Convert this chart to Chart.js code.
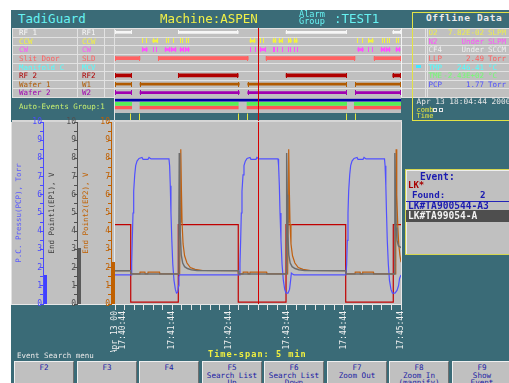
<!DOCTYPE html>
<html>
<head>
<meta charset="utf-8">
<title>TadiGuard - ASPEN</title>
<script src="https://cdn.jsdelivr.net/npm/chart.js@4.4.1/dist/chart.umd.min.js"></script>
<style>
html,body{margin:0;padding:0;background:#ffffff}
body{width:509px;height:383px;position:relative;overflow:hidden;font-family:'DejaVu Sans Mono',monospace}
.a{position:absolute;white-space:pre}
canvas{position:absolute}
</style>
</head>
<body>
<script>
// ---------------- data ----------------
const MONO = "'DejaVu Sans Mono', monospace";

// time axis: seconds after 17:40:44, 5 minute span
const timeMajor = [0, 60, 120, 180, 240, 300];
const timeLabels = [['Apr 13 00', '17:40:44'], '17:41:44', '17:42:44', '17:43:44', '17:44:44', '17:45:44'];
const timeMinorStep = 10;
const cursorTime = 150.5;

// value axes (all 0..10)
const axisLabels = [0, 1, 2, 3, 4, 5, 6, 7, 8, 9, 10];

// P.C. Pressure (PCP), Torr  [t, value]
const pcp = [
  [0,1.6],[16.8,1.6],[17.5,2.2],[18.1,3.5],[18.9,5.0],[19.6,6.2],[20.7,7.1],[21.7,7.6],[23.1,7.85],[25.2,8.0],
  [28.3,8.05],[29.4,7.95],[34.6,7.95],[35.7,8.05],[37.8,7.97],[56.6,7.97],[57.3,7.6],[58.0,6.5],[58.7,5.0],
  [59.6,3.5],[60.6,2.2],[61.9,1.3],[63.3,0.8],[64.5,0.6],[65.8,0.65],[66.6,1.0],[67.1,1.5],[67.8,1.6],
  [130.4,1.6],[131.1,2.2],[131.8,3.5],[132.5,5.0],[133.2,6.2],[134.3,7.1],[135.3,7.6],[136.7,7.85],[138.5,8.0],
  [141.6,8.05],[142.6,7.95],[147.9,7.95],[148.9,8.05],[151.0,7.97],[171.0,7.97],[171.6,7.6],[172.4,6.5],
  [173.1,5.0],[174.1,3.5],[175.2,2.2],[176.6,1.3],[178.0,0.8],[179.4,0.6],[181.5,0.6],[183.1,0.8],[184.2,1.3],
  [185.0,1.7],[186.2,1.65],[187.8,1.6],
  [242.3,1.6],[243.0,2.2],[243.7,3.5],[244.4,5.0],[245.1,6.2],[246.2,7.1],[247.2,7.6],[248.6,7.85],[250.7,8.0],
  [253.9,8.05],[254.9,7.95],[260.2,7.95],[261.2,8.05],[263.3,7.97],[282.7,7.97],[283.3,7.6],[284.1,6.5],
  [284.8,5.0],[285.6,3.5],[286.7,2.2],[287.9,1.3],[289.5,0.8],[291.0,0.6],[293.7,0.6],[295.8,0.75],[297.4,1.0],
  [298.5,1.4],[300,1.6]
];

// RF level (step trace): value holds from each time until the next
const rfLevel = [[0,4.36],[16.5,0.1],[66.4,4.36],[129.3,0.1],[179.4,4.36],[242.0,0.1],[291.9,4.36],[300,4.36]];

// End Point 1 (EP1), V
const ep1 = [
  [0,1.83],[16.5,1.83],[17.0,1.65],[66.6,1.65],[67.0,4.5],[67.4,8.3],[67.9,6.0],[68.5,3.8],[69.5,2.7],[71,2.25],
  [73,2.05],[76,1.95],[80,1.88],[86,1.84],[129.3,1.83],[129.8,1.65],[179.6,1.65],[179.9,4.5],[180.2,8.3],
  [180.7,6.0],[181.3,3.8],[182.3,2.7],[183.8,2.25],[185.8,2.05],[188.8,1.95],[192.8,1.88],[198.8,1.84],
  [242.0,1.83],[242.5,1.65],[293.0,1.65],[293.4,4.5],[293.7,8.3],[294.2,6.0],[294.9,4.2],[295.8,3.5],
  [297.3,3.2],[300,3.1]
];

// End Point 2 (EP2), V
const ep2 = [
  [0,1.83],[16.5,1.83],[17.0,1.65],[26.0,1.65],[26.3,1.75],[31.4,1.75],[31.7,1.65],[34.4,1.65],[34.7,1.75],
  [46.6,1.75],[46.9,1.65],[67.8,1.65],[68.3,4.5],[68.8,8.5],[69.2,8.5],[69.7,6.2],[70.4,4.4],[71.4,3.3],
  [73.0,2.65],[75.5,2.25],[79,2.0],[84,1.9],[92,1.84],[129.3,1.83],[129.8,1.65],[134.2,1.65],[134.5,1.75],
  [139.4,1.75],[139.7,1.65],[141.4,1.65],[141.7,1.75],[159.0,1.75],[159.3,1.65],[181.1,1.65],[181.5,4.5],
  [182.0,8.5],[182.4,8.5],[182.9,6.2],[183.6,4.4],[184.6,3.3],[186.2,2.65],[188.7,2.25],[192.2,2.0],
  [197.2,1.9],[205.2,1.84],[242.0,1.83],[242.5,1.65],[251.7,1.65],[252.0,1.75],[257.0,1.75],[257.3,1.65],
  [259.5,1.65],[259.8,1.75],[271.0,1.75],[271.3,1.65],[294.2,1.65],[294.5,4.5],[294.9,8.5],[295.3,8.5],
  [295.8,6.0],[296.6,4.3],[297.6,3.3],[298.8,2.7],[300,2.3]
];

// current readings shown as bars beside each axis
const levelPCP = 1.6, levelEP1 = 3.1, levelEP2 = 2.3;

// digital event rows
const rowNames  = ['RF 1', 'CCW', 'CW', 'Slit Door', 'Manifold C', 'RF 2', 'Wafer 1', 'Wafer 2'];
const rowCodes  = ['RF1', 'CCW', 'CW', 'SLD', 'MCV', 'RF2', 'W1', 'W2'];
const rowColors = ['#f6f6f6', '#f2f240', '#ff50ff', '#ff6262', '#50ffff', '#b00000', '#b05a00', '#a000b0'];

const rf1On      = [[0,17.5],[66.4,129.3],[179.4,243.0],[291.3,300]];
const ccwPulses  = [[39.5,44.8],[141.6,146.9],[165.7,168.8],[172.0,175.7],[181.8,185.1],[187.8,191.2],[265.7,270.9]];
const ccwMarks   = [[28.6,33.9],[53.2,56.6],[60.5,61.9],[68.2,71.3],[74.5,77.9],[152.1,156.3],[254.2,259.8],[279.8,283.2],[285.2,288.5],[294.6,298.0]];
const cwPulses   = [[28.6,33.9],[52.4,57.7],[58.7,64.0],[68.2,72.3],[73.9,77.9],[152.1,158.1],[254.6,260.5],[279.0,283.2],[284.3,288.5],[294.6,299.0]];
const cwMarks    = [[39.5,44.3],[141.6,147.6],[165.4,167.8],[169.9,175.9],[181.3,184.7],[187.8,191.8],[265.7,270.9]];
const slitOpen   = [[0,26.2],[45.4,139.8],[158.4,251.8],[271.7,300]];
const manifoldOn = [];
const rf2On      = [[0,17.5],[66.4,129.3],[179.4,243.0],[291.3,300]];
const wafer1In   = [[0,17.5],[26.2,130.4],[139.2,243.0],[252.1,300]];
const wafer2In   = [[0,17.5],[26.2,130.4],[139.2,243.0],[252.1,300]];

// auto-events group 1
const autoRows   = ['G1', 'A', 'B'];
const autoGroup  = [[0,300]];
const autoPass   = [[0,17.5],[26.2,129.3],[138.5,243.0],[251.0,300]];
const autoFail   = [[0,17.5],[26.2,129.3],[138.5,243.0],[251.0,300]];
const autoMarks  = [16.5, 25.5, 129.3, 138.5, 242.6, 251.8];

// offline data table
const offNames  = ['O2', 'N2', 'CF4', 'LLP', 'TMP', 'TME', 'PCP'];
const offValues = ['7.82E-02', 'Under', 'Under', '2.49', '246.41', '-2.43E+02', '1.77'];
const offUnits  = ['SLPM', 'SLPM', 'SCCM', 'Torr', '°C', '°C', 'Torr'];
const offColors = ['#ecec50', '#ff50ff', '#eeeeee', '#ff6060', '#50ffff', '#70ff70', '#5050ff'];

// function keys
const fkeys = [['F2'], ['F3'], ['F4'], ['F5', 'Search List', 'Up'], ['F6', 'Search List', 'Down'],
               ['F7', 'Zoom Out'], ['F8', 'Zoom In', '(magnify)'], ['F9', 'Show', 'Event']];

// ---------------- page furniture ----------------
const TEAL = '#3a6b77', GRAY = '#c0c0c0', LINE = '#e2e2e2';
const root = document.body;

function box(x, y, w, h, bg, css) {
  const d = document.createElement('div');
  d.className = 'a';
  Object.assign(d.style, {left: x + 'px', top: y + 'px', width: w + 'px', height: h + 'px', background: bg}, css || {});
  root.appendChild(d);
  return d;
}
function txt(s, x, yc, size, color, css) {
  const d = document.createElement('div');
  d.className = 'a';
  d.textContent = s;
  const lh = Math.round(size * 1.25);
  Object.assign(d.style, {left: x + 'px', top: (yc - lh / 2) + 'px', fontSize: size + 'px', lineHeight: lh + 'px', color}, css || {});
  root.appendChild(d);
  return d;
}
function txtR(s, xr, yc, size, color, css) {
  const d = txt(s, 0, yc, size, color, css);
  d.style.left = '';
  d.style.right = (509 - xr) + 'px';
  return d;
}
function canvasAt(x, y, w, h) {
  const c = document.createElement('canvas');
  c.width = w; c.height = h;
  Object.assign(c.style, {left: x + 'px', top: y + 'px', width: w + 'px', height: h + 'px'});
  root.appendChild(c);
  return c;
}

// screen
box(11, 10, 498, 373, TEAL);

// event rows band
const ROW_TOP = 28, ROW_H = 69 / 8;
box(12, ROW_TOP, 497, 69, GRAY);
for (let k = 0; k <= 8; k++) box(12, Math.round(ROW_TOP + k * ROW_H), 497, 1, LINE);
[12, 77, 104, 114].forEach(x => box(x, ROW_TOP, 1, 69, LINE));
box(401, ROW_TOP, 1, 69, '#f4f4f4');

// auto-events band
box(115, 97, 286, 16, GRAY);
box(114, 97, 1, 24, LINE);
box(12, 120, 390, 1.5, '#d6d6d6');

// chart band
box(12, 121.5, 389, 182.5, GRAY);
box(11, 121.5, 1, 183, LINE);
box(114, 122, 1, 182, '#e8e8e8');
box(12, 304, 390, 1, '#e8e8e8');
box(401, 121.5, 1, 183.5, '#e8e8e8');

// offline data panel
box(412, 12, 100, 109, 'transparent', {border: '1px solid #e2e246', boxSizing: 'border-box'});
[425, 427].forEach(x => box(x, ROW_TOP, 1, 69, LINE));
box(416, 65, 5, 3, '#40e8ff');

// event search panel
box(405, 169, 106, 86, GRAY, {border: '1px solid #d6d650', boxSizing: 'border-box'});
box(406, 170, 104, 1, '#eeeeee');
box(406, 170, 1, 84, '#eeeeee');
box(406, 200.5, 104, 1.2, '#2424b8');
box(406, 210, 104, 11.5, '#4e4e4e');

// function keys
const keyLeft = [14, 77, 139, 202, 264, 327, 389, 452];
fkeys.forEach((lines, i) => {
  const b = box(keyLeft[i], 361, 60, 24, GRAY, {
    borderTop: '1px solid #f0f0f0', borderLeft: '1px solid #f0f0f0', borderRight: '1px solid #6e6e6e',
    boxSizing: 'border-box', color: '#2020a4', fontSize: '7.6px', lineHeight: '7.5px',
    textAlign: 'center', paddingTop: '2px'
  });
  b.textContent = lines.join('\n');
});

// ---------------- charts ----------------
Chart.defaults.font.family = MONO;
Chart.defaults.animation = false;

const cursorPlugin = {
  id: 'cursor',
  afterDatasetsDraw(chart, args, opts) {
    const x = Math.floor(chart.scales.x.getPixelForValue(cursorTime));
    const top = opts.full ? 0 : chart.chartArea.top;
    const bottom = opts.full ? chart.height : chart.chartArea.bottom;
    const ctx = chart.ctx;
    ctx.save();
    ctx.fillStyle = '#d40000';
    ctx.fillRect(x, top, 1, bottom - top);
    ctx.restore();
  }
};

// end caps on every event bar
const capsPlugin = {
  id: 'caps',
  afterDatasetsDraw(chart) {
    const ctx = chart.ctx;
    ctx.save();
    chart.data.datasets.forEach((ds, i) => {
      if (!ds.capHeight) return;
      ctx.fillStyle = ds.capColor;
      chart.getDatasetMeta(i).data.forEach(bar => {
        const p = bar.getProps(['x', 'base', 'y'], true);
        const x0 = Math.round(Math.min(p.x, p.base)), x1 = Math.round(Math.max(p.x, p.base));
        const y0 = Math.round(p.y - ds.capHeight / 2);
        ctx.fillRect(x0, y0, 1, ds.capHeight);
        ctx.fillRect(Math.max(x0, x1 - 1), y0, 1, ds.capHeight);
      });
    });
    ctx.restore();
  }
};

function spanSet(row, spans, color, thick, filled, caps) {
  return {
    data: spans.map(s => ({x: s, y: row})),
    backgroundColor: filled ? color : 'rgba(0,0,0,0)',
    barThickness: thick, grouped: false, borderWidth: 0,
    capColor: color, capHeight: caps
  };
}

function eventOptions(rows, padding, extra) {
  return {
    indexAxis: 'y', responsive: false, animation: false,
    layout: {padding},
    events: [],
    plugins: Object.assign({legend: {display: false}, tooltip: {enabled: false}, cursor: {full: true}}, extra || {}),
    scales: {
      x: {type: 'linear', min: 0, max: 300, display: false},
      y: {type: 'category', labels: rows, offset: true, display: false}
    }
  };
}

// event rows
new Chart(canvasAt(115, ROW_TOP, 286, 69), {
  type: 'bar',
  data: {datasets: [
    spanSet(rowNames[0], rf1On, rowColors[0], 2, true, 4),
    spanSet(rowNames[1], ccwPulses, rowColors[1], 2, true, 5),
    spanSet(rowNames[1], ccwMarks, rowColors[1], 2, false, 5),
    spanSet(rowNames[2], cwPulses, rowColors[2], 2, true, 5),
    spanSet(rowNames[2], cwMarks, rowColors[2], 2, false, 5),
    spanSet(rowNames[3], slitOpen, rowColors[3], 3, true, 5),
    spanSet(rowNames[4], manifoldOn, rowColors[4], 3, true, 5),
    spanSet(rowNames[5], rf2On, rowColors[5], 3, true, 5),
    spanSet(rowNames[6], wafer1In, rowColors[6], 2, true, 5),
    spanSet(rowNames[7], wafer2In, rowColors[7], 2, true, 5)
  ]},
  options: eventOptions(rowNames, 0),
  plugins: [capsPlugin, cursorPlugin]
});

// auto-events group
const marksPlugin = {
  id: 'marks',
  afterDatasetsDraw(chart) {
    const ctx = chart.ctx;
    ctx.save();
    ctx.fillStyle = '#e6e640';
    autoMarks.forEach(t => {
      const x = Math.floor(chart.scales.x.getPixelForValue(t));
      ctx.fillRect(x, 16.5, 1, 6.5);
    });
    ctx.restore();
  }
};
new Chart(canvasAt(115, 97, 286, 24), {
  type: 'bar',
  data: {datasets: [
    spanSet(autoRows[0], autoGroup, '#0000a8', 2, true, 0),
    spanSet(autoRows[1], autoPass, '#56f056', 3, true, 0),
    spanSet(autoRows[2], autoFail, '#ff5656', 3, true, 0)
  ]},
  options: eventOptions(autoRows, {top: 1.3, bottom: 11.5, left: 0, right: 0}),
  plugins: [marksPlugin, cursorPlugin]
});

// trend chart
const rulerTicks = [];
for (let v = 0; v <= 10; v += 0.5) rulerTicks.push(v);
const minorTicks = [];
for (let t = 0; t <= 300; t += timeMinorStep) minorTicks.push(t);

function valueAxis(title, color, titleColor, weight, width, titlePad) {
  return {
    type: 'linear', position: 'left', weight, min: 0, max: 10,
    afterBuildTicks: s => { s.ticks = rulerTicks.map(v => ({value: v})); },
    afterFit: s => { s.width = width; s.paddingTop = 0; s.paddingBottom = 0; },
    grid: {drawOnChartArea: false, drawTicks: true, tickLength: 3, color, lineWidth: 1},
    border: {display: true, color, width: 1},
    ticks: {
      autoSkip: false, padding: -2, color, font: {family: MONO, size: 8},
      callback: v => axisLabels.includes(v) ? String(v) : ''
    },
    title: {display: true, text: title, color: titleColor, font: {family: MONO, size: 7.5}, padding: {top: titlePad, bottom: 0}}
  };
}

const levelPlugin = {
  id: 'levels',
  afterDraw(chart) {
    const ctx = chart.ctx;
    ctx.save();
    [['yPCP', levelPCP, '#4040ff'], ['yEP1', levelEP1, '#5a5a5a'], ['yEP2', levelEP2, '#c06000']].forEach(([id, v, c]) => {
      const s = chart.scales[id];
      const y0 = s.getPixelForValue(0), y1 = s.getPixelForValue(v);
      ctx.fillStyle = c;
      ctx.fillRect(Math.round(s.right) + 1, Math.round(y1), 3, Math.round(y0 - y1));
    });
    ctx.restore();
  }
};

const pts = arr => arr.map(([x, y]) => ({x, y}));

new Chart(canvasAt(12, 112, 397, 240), {
  type: 'line',
  data: {datasets: [
    {label: 'End Point1(EP1)', data: pts(ep1), yAxisID: 'yEP1', borderColor: '#6c6c6c', borderWidth: 1.4, pointRadius: 0, tension: 0},
    {label: 'P.C. Pressu(PCP)', data: pts(pcp), yAxisID: 'yPCP', borderColor: '#5050ff', borderWidth: 1.2, pointRadius: 0, tension: 0},
    {label: 'End Point2(EP2)', data: pts(ep2), yAxisID: 'yEP2', borderColor: '#c06010', borderWidth: 1.2, pointRadius: 0, tension: 0},
    {label: 'RF', data: pts(rfLevel), yAxisID: 'yPCP', borderColor: '#c00000', borderWidth: 1.2, pointRadius: 0, stepped: true}
  ]},
  options: {
    responsive: false, animation: false, events: [],
    layout: {padding: {top: 10, right: 8, bottom: 0, left: 0}},
    plugins: {legend: {display: false}, tooltip: {enabled: false}, cursor: {full: false}},
    scales: {
      x: {
        type: 'linear', min: 0, max: 300,
        afterBuildTicks: s => { s.ticks = minorTicks.map(v => ({value: v})); },
        afterFit: s => { s.height = 48; s.paddingLeft = 0; s.paddingRight = 0; },
        grid: {drawOnChartArea: false, drawTicks: true, tickLength: 6, color: '#e4e4e4'},
        border: {display: false},
        ticks: {
          autoSkip: false, minRotation: 90, maxRotation: 90, padding: 1, color: '#f2f2f2',
          font: {family: MONO, size: 8, lineHeight: 1.0},
          callback: v => { const i = timeMajor.indexOf(v); return i < 0 ? '' : timeLabels[i]; }
        }
      },
      yPCP: valueAxis('P.C. Pressu(PCP), Torr', '#4a4aff', '#5a5aff', 4, 31, 2.5),
      yEP1: valueAxis('End Point1(EP1), V', '#505050', '#404040', 3, 34, 4.8),
      yEP2: valueAxis('End Point2(EP2), V', '#c06000', '#c06000', 2, 34, 4.2),
      yGap: {
        type: 'linear', position: 'left', weight: 1, min: 0, max: 10,
        grid: {display: false}, border: {display: false}, ticks: {display: false},
        afterFit: s => { s.width = 4; s.paddingTop = 0; s.paddingBottom = 0; }
      }
    }
  },
  plugins: [levelPlugin, cursorPlugin]
});

// ---------------- text ----------------
txt('TadiGuard', 18, 18.5, 12.5, '#66f2f2');
txt('Machine:ASPEN', 160, 18.5, 12.5, '#f0f048');
txt('Alarm', 299, 14.5, 8.6, '#66f2f2', {lineHeight: '7px', top: '11px'});
txt('Group', 299, 21.5, 8.6, '#66f2f2', {lineHeight: '7px', top: '18px'});
txt(':TEST1', 334, 18.5, 12.5, '#66f2f2');

rowNames.forEach((n, i) => {
  const yc = ROW_TOP + ROW_H * (i + 0.5) + 0.3;
  txt(n, 19, yc, 7.5, rowColors[i]);
  txt(rowCodes[i], 82, yc, 7.5, rowColors[i]);
});
txt('Auto-Events Group:1', 19, 106.8, 7.5, '#c8f070');

txt('Offline Data', 426, 18.4, 9.5, '#ececec', {fontWeight: 'bold', letterSpacing: '0.65px'});
offNames.forEach((n, i) => {
  const yc = ROW_TOP + ROW_H * (i + 0.5) + 0.3;
  txt(n, 428.5, yc, 7.5, offColors[i]);
  txtR(offValues[i], 484, yc, 7.5, offColors[i]);
  txt(offUnits[i], 488, yc, 7.5, offColors[i]);
});
txt('Apr 13 18:04:44 2000', 416.5, 102.2, 7.8, '#e6e6e6');
txt('comb', 416.5, 110, 7, '#e6e640', {lineHeight: '7px', top: '106.5px'});
txt('Time', 416.5, 117, 7, '#e6e640', {lineHeight: '7px', top: '113.3px'});
box(433, 108, 4, 4, 'transparent', {border: '1px solid #e6e6e6', boxSizing: 'border-box'});
box(439, 108, 4, 4, 'transparent', {border: '1px solid #e6e6e6', boxSizing: 'border-box'});

txt('Event:', 420, 176.8, 9.6, '#1c1cb0', {fontWeight: 'bold'});
txt('LK*', 408, 185.3, 9, '#a80000', {fontWeight: 'bold'});
txt('Found:', 412, 194.8, 9.2, '#1c1cb0', {fontWeight: 'bold'});
txt('2', 480, 194.8, 9.2, '#1c1cb0', {fontWeight: 'bold'});
txt('LK#TA900544-A3', 408, 206.2, 9.6, '#1c1cb0', {fontWeight: 'bold'});
txt('LK#TA99054-A', 408, 216, 9.6, '#f2f2f2', {fontWeight: 'bold'});

txt('Event Search menu', 17, 355, 7.5, '#e8e8e8');
txt('Time-span: 5 min', 208, 354.5, 8.6, '#f0f040', {fontWeight: 'bold', letterSpacing: '1px'});
</script>
</body>
